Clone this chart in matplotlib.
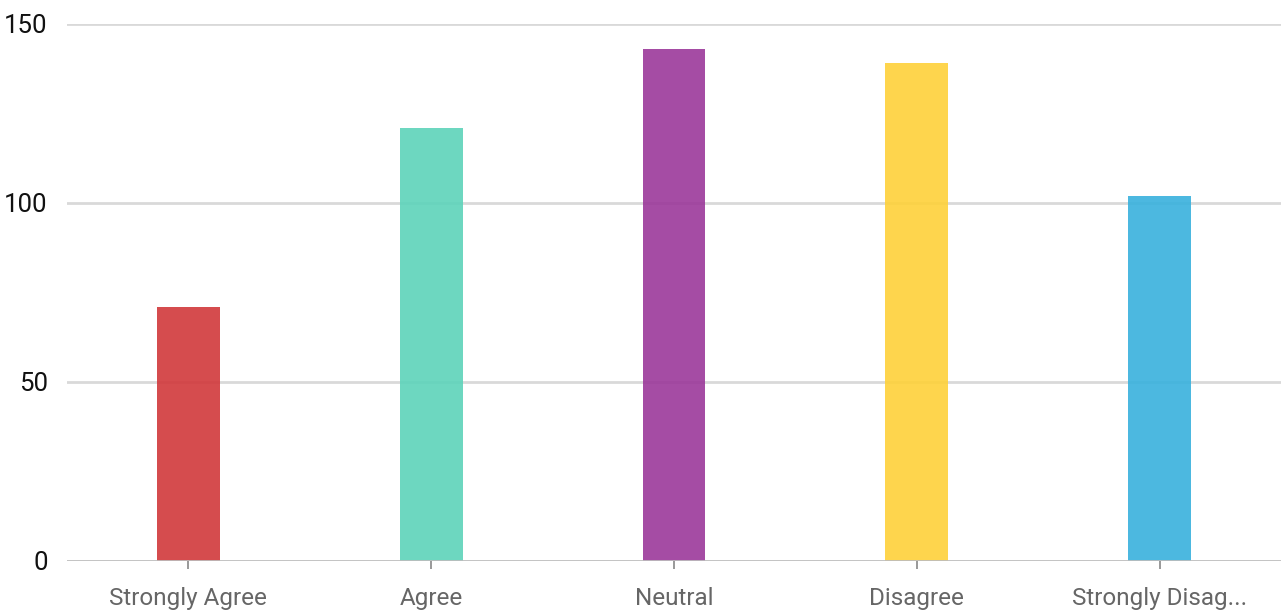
import matplotlib
matplotlib.use("Agg")
import matplotlib.pyplot as plt

categories = ["Strongly Agree", "Agree", "Neutral", "Disagree", "Strongly Disag..."]
values = [71, 121, 143, 139, 102]
colors = ["#d1383b", "#5dd3ba", "#9b389a", "#fed139", "#38b1dd"]
yticks = [0, 50, 100, 150]

plt.rcParams['font.family'] = ['Roboto', 'DejaVu Sans']

fig = plt.figure(figsize=(12.81, 6.14), dpi=100)
ax = fig.add_axes([67/1281, 53/614, 1214/1281, (561-24)/614])

x = list(range(len(categories)))
ax.bar(x, values, width=0.258, color=colors, alpha=0.9, zorder=3)

ax.set_xlim(-0.5, len(categories) - 0.5)
ax.set_ylim(0, 150)
ax.set_yticks(yticks)
ax.set_yticklabels([str(t) for t in yticks], fontsize=18.5, color="#111111")
ax.set_xticks(x)
ax.set_xticklabels(categories, fontsize=17.5, color="#666666")

for t in yticks[1:]:
    ax.axhline(t, color="#d9d9d9", linewidth=2, zorder=1)
ax.axhline(0, color="#bdbdbd", linewidth=2, zorder=4)

for s in ax.spines.values():
    s.set_visible(False)
ax.tick_params(axis="y", length=0, pad=14)
ax.tick_params(axis="x", length=6, width=1.2, color="#888888", pad=13)

fig.savefig("out.png", dpi=100)
